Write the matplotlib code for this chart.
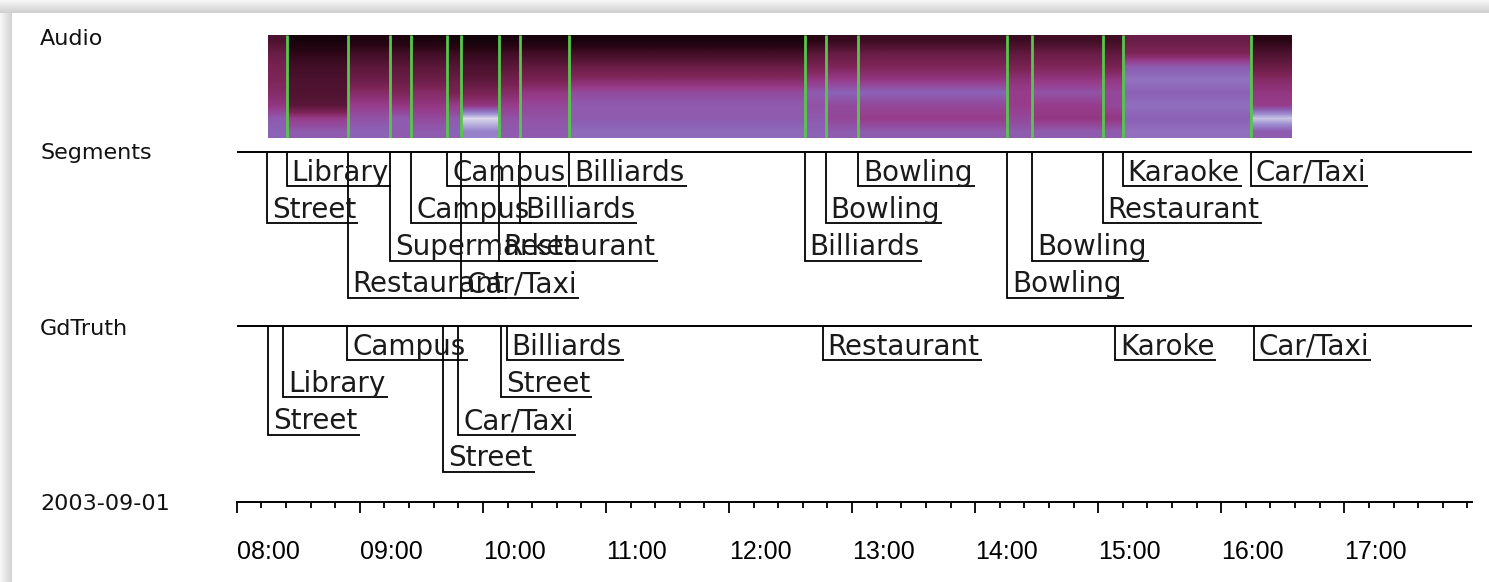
import matplotlib
matplotlib.use("Agg")
import matplotlib.pyplot as plt
import matplotlib.dates as mdates
import matplotlib.transforms as mtransforms
from matplotlib.colors import LinearSegmentedColormap
from matplotlib.patches import Rectangle
import numpy as np
import pandas as pd

W, H = 1489, 582
DAY = "2003-09-01"

# automatic segmentation
seg_labels = ["Street", "Library", "Restaurant", "Supermarket", "Campus", "Campus",
              "Car/Taxi", "Restaurant", "Billiards", "Billiards", "Billiards",
              "Bowling", "Bowling", "Bowling", "Bowling", "Restaurant", "Karaoke",
              "Car/Taxi"]
seg_starts = ["08:14:45", "08:24:14", "08:54:00", "09:14:42", "09:25:10", "09:42:30",
              "09:49:33", "10:07:36", "10:18:05", "10:42:07", "12:36:48",
              "12:47:02", "13:03:07", "14:15:46", "14:27:57", "15:02:06", "15:11:57",
              "16:14:21"]
seg_lanes = [2, 1, 4, 3, 2, 1, 4, 3, 2, 1, 3, 2, 1, 4, 3, 2, 1, 1]

# ground truth annotation
gt_labels = ["Street", "Library", "Campus", "Street", "Car/Taxi", "Street",
             "Billiards", "Restaurant", "Karoke", "Car/Taxi"]
gt_starts = ["08:15:22", "08:22:40", "08:53:53", "09:40:41", "09:48:00", "10:08:40",
             "10:11:36", "12:45:40", "15:08:10", "16:15:43"]
gt_lanes = [3, 2, 1, 4, 3, 2, 1, 1, 1, 1]

audio_start = "08:15:13"
audio_end = "16:34:20"
axis_start = "08:00:00"
axis_end = "18:02:06"

# spectrogram energy, one profile per segment block (high freq -> low freq)
audio_profiles = [
    [0.35, 0.45, 0.50, 0.52, 0.55, 0.60, 0.70, 0.72],
    [0.08, 0.22, 0.30, 0.34, 0.36, 0.40, 0.62, 0.70],
    [0.14, 0.30, 0.40, 0.46, 0.55, 0.62, 0.68, 0.72],
    [0.14, 0.30, 0.40, 0.45, 0.52, 0.60, 0.70, 0.70],
    [0.12, 0.30, 0.40, 0.46, 0.55, 0.60, 0.66, 0.70],
    [0.10, 0.28, 0.38, 0.45, 0.50, 0.62, 0.70, 0.72],
    [0.06, 0.24, 0.34, 0.40, 0.50, 0.60, 0.95, 0.80],
    [0.12, 0.30, 0.40, 0.48, 0.55, 0.62, 0.68, 0.70],
    [0.10, 0.30, 0.42, 0.50, 0.60, 0.65, 0.68, 0.70],
    [0.10, 0.30, 0.45, 0.55, 0.66, 0.70, 0.70, 0.74],
    [0.20, 0.40, 0.50, 0.60, 0.70, 0.68, 0.70, 0.72],
    [0.25, 0.44, 0.52, 0.62, 0.72, 0.66, 0.65, 0.70],
    [0.28, 0.45, 0.52, 0.60, 0.72, 0.65, 0.62, 0.70],
    [0.28, 0.42, 0.50, 0.58, 0.62, 0.62, 0.65, 0.70],
    [0.30, 0.45, 0.52, 0.60, 0.68, 0.62, 0.60, 0.70],
    [0.30, 0.42, 0.50, 0.60, 0.65, 0.65, 0.60, 0.70],
    [0.45, 0.52, 0.70, 0.76, 0.72, 0.75, 0.72, 0.75],
    [0.20, 0.35, 0.45, 0.55, 0.60, 0.62, 0.92, 0.70],
]


def to_num(times):
    return mdates.date2num(pd.to_datetime([DAY + " " + t for t in times]))


spec_cmap = LinearSegmentedColormap.from_list("spec", [
    (0.00, "#0a0206"), (0.20, "#2a0615"), (0.38, "#551535"), (0.52, "#7e2558"),
    (0.62, "#983c8c"), (0.72, "#8c62b6"), (0.82, "#9c8cd0"), (0.92, "#cac4e4"),
    (1.00, "#f4f4ee")])

fig = plt.figure(figsize=(W / 100, H / 100), dpi=100)
fig.patch.set_facecolor("white")

# window shadow around the panel
bg = fig.add_axes([0, 0, 1, 1], zorder=-10)
bg.set_xlim(0, W)
bg.set_ylim(H, 0)
bg.axis("off")
for i in range(13):
    g = 0.96 - 0.012 * i
    bg.add_patch(Rectangle((0, i), W, 1, color=(g, g, g), lw=0))
    bg.add_patch(Rectangle((i, i), 1, H, color=(g, g, g), lw=0))
bg.add_patch(Rectangle((12, 13), W, H, color="white", lw=0))

X0, X1 = 236.8, 1471.7


def px_axes(top, bottom):
    return fig.add_axes([X0 / W, 1 - bottom / H, (X1 - X0) / W, (bottom - top) / H])


xlim = to_num([axis_start, axis_end])
text_kw = dict(fontsize=16, family="DejaVu Sans", color="#111111", va="baseline")
fig.text(40 / W, 1 - 45 / H, "Audio", **text_kw)
fig.text(40 / W, 1 - 159 / H, "Segments", **text_kw)
fig.text(40 / W, 1 - 335 / H, "GdTruth", **text_kw)
fig.text(40 / W, 1 - 510.5 / H, DAY, **text_kw)

# audio spectrogram
ax_a = px_axes(35, 138.3)
edges = to_num([audio_start] + seg_starts[1:] + [audio_end])
for i, prof in enumerate(audio_profiles):
    ax_a.imshow(np.array(prof)[:, None], cmap=spec_cmap, vmin=0, vmax=1,
                aspect="auto", interpolation="bilinear",
                extent=(edges[i], edges[i + 1], 0, 1))
ax_a.vlines(to_num(seg_starts[1:]), 0, 1, color="#55c84a", lw=2)
ax_a.set_xlim(xlim)
ax_a.set_ylim(0, 1)
ax_a.axis("off")

fig.canvas.draw()
renderer = fig.canvas.get_renderer()


def draw_track(top, base, bottom, labels, starts, lanes):
    ax = px_axes(top, bottom)
    ax.set_xlim(xlim)
    ax.set_ylim(bottom - base, top - base)
    ax.axis("off")
    ax.axhline(0, color="black", lw=1.4)
    off = mtransforms.offset_copy(ax.transData, fig=fig, x=5, y=0, units="dots")
    for lab, t, lane in zip(labels, to_num(starts), lanes):
        y = 34.5 + 37.2 * (lane - 1)
        txt = ax.text(t, y - 5.5, lab, fontsize=20, family="DejaVu Sans",
                      color="#1a1a1a", ha="left", va="baseline", transform=off)
        bb = txt.get_window_extent(renderer)
        x_end = ax.transData.inverted().transform((bb.x1 + 2, 0))[0]
        ax.plot([t, t, x_end], [0, y, y], color="black", lw=1.3,
                solid_joinstyle="miter", solid_capstyle="butt")
    return ax


draw_track(140, 151.7, 310, seg_labels, seg_starts, seg_lanes)
draw_track(314, 325.7, 484, gt_labels, gt_starts, gt_lanes)

# time axis
ax_t = px_axes(470, 501.7)
ax_t.set_xlim(xlim)
ax_t.set_yticks([])
for s in ["top", "left", "right"]:
    ax_t.spines[s].set_visible(False)
ax_t.spines["bottom"].set_linewidth(1.4)
ax_t.patch.set_alpha(0)
ax_t.xaxis.set_major_locator(mdates.HourLocator(byhour=range(8, 18)))
ax_t.xaxis.set_minor_locator(mdates.MinuteLocator(byminute=[0, 12, 24, 36, 48]))
ax_t.xaxis.set_major_formatter(mdates.DateFormatter("%H:%M"))
ax_t.tick_params(axis="x", which="major", direction="out", length=7.9, width=1.3,
                 pad=20, labelsize=18)
ax_t.tick_params(axis="x", which="minor", direction="out", length=4, width=1.3)
for lab in ax_t.get_xticklabels():
    lab.set_horizontalalignment("left")
    lab.set_family("Liberation Sans")

fig.savefig("out.png", dpi=100)
